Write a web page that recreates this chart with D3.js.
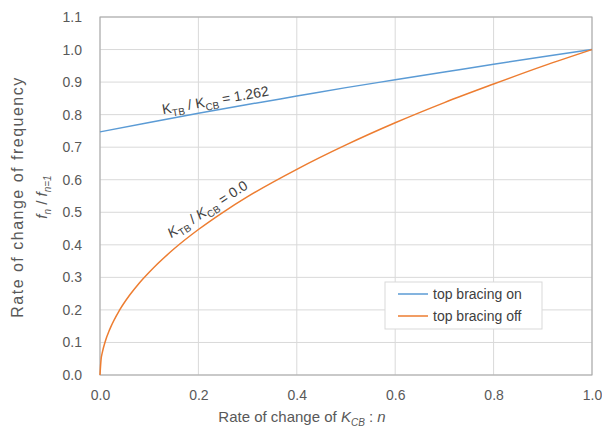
<!DOCTYPE html>
<html>
<head>
<meta charset="utf-8">
<script src="https://cdn.jsdelivr.net/npm/d3@7"></script>
<style>
  body { margin: 0; background: #fff; }
  svg { display: block; font-family: "Liberation Sans", Arial, sans-serif; }
</style>
</head>
<body>
<svg></svg>
<script>
const WIDTH = 602;
const HEIGHT = 430;

// values
const n_on = [0.0, 0.1, 0.2, 0.3, 0.4, 0.5, 0.6, 0.7, 0.8, 0.9, 1.0];
const f_on = [0.747, 0.776, 0.804, 0.831, 0.857, 0.883, 0.907, 0.931, 0.955, 0.978, 1.0];

const n_off = [0.0, 0.002, 0.005, 0.01, 0.02, 0.04, 0.06, 0.08, 0.1, 0.15, 0.2, 0.25, 0.3, 0.4, 0.5, 0.6, 0.7, 0.8, 0.9, 1.0];
const f_off = [0.0, 0.045, 0.071, 0.1, 0.141, 0.2, 0.245, 0.283, 0.316, 0.387, 0.447, 0.5, 0.548, 0.632, 0.707, 0.775, 0.837, 0.894, 0.949, 1.0];

const x_ticks = [0.0, 0.2, 0.4, 0.6, 0.8, 1.0];
const y_ticks = [0.0, 0.1, 0.2, 0.3, 0.4, 0.5, 0.6, 0.7, 0.8, 0.9, 1.0, 1.1];
const series_names = ["top bracing on", "top bracing off"];

const BLUE = "#5b9bd5";
const ORANGE = "#ed7d31";

const PLOT = {left: 100, right: 592, top: 17, bottom: 375};

var svg = d3.select("svg")
    .attr("width", WIDTH)
    .attr("height", HEIGHT);

svg.append("rect")
    .attr("width", WIDTH)
    .attr("height", HEIGHT)
    .attr("fill", "#fff");

var x = d3.scaleLinear().domain([0, 1]).range([PLOT.left, PLOT.right]);
var y = d3.scaleLinear().domain([0, 1.1]).range([PLOT.bottom, PLOT.top]);

// grid
svg.append("g")
    .selectAll("line.h")
    .data(y_ticks)
    .join("line")
    .attr("x1", PLOT.left).attr("x2", PLOT.right)
    .attr("y1", d => y(d)).attr("y2", d => y(d))
    .attr("stroke", "#d9d9d9");

svg.append("g")
    .selectAll("line.v")
    .data(x_ticks)
    .join("line")
    .attr("x1", d => x(d)).attr("x2", d => x(d))
    .attr("y1", PLOT.top).attr("y2", PLOT.bottom)
    .attr("stroke", "#d9d9d9");

svg.append("rect")
    .attr("x", PLOT.left)
    .attr("y", PLOT.top)
    .attr("width", PLOT.right - PLOT.left)
    .attr("height", PLOT.bottom - PLOT.top)
    .attr("fill", "none")
    .attr("stroke", "#a6a6a6");

// axes
var xAxis = svg.append("g")
    .attr("transform", `translate(0,${PLOT.bottom})`)
    .call(d3.axisBottom(x).tickValues(x_ticks).tickFormat(d3.format(".1f")).tickSize(0).tickPadding(15));
var yAxis = svg.append("g")
    .attr("transform", `translate(${PLOT.left},0)`)
    .call(d3.axisLeft(y).tickValues(y_ticks).tickFormat(d3.format(".1f")).tickSize(0).tickPadding(18));

[xAxis, yAxis].forEach(a => {
    a.select(".domain").remove();
    a.selectAll("text")
        .style("font-family", "Liberation Sans, Arial, sans-serif")
        .style("font-size", "14px")
        .attr("fill", "#595959");
});

// lines
var line = d3.line()
    .x(d => x(d[0]))
    .y(d => y(d[1]))
    .curve(d3.curveMonotoneX);

svg.append("path")
    .attr("d", line(d3.zip(n_on, f_on)))
    .attr("fill", "none")
    .attr("stroke", BLUE)
    .attr("stroke-width", 1.5);

svg.append("path")
    .attr("d", line(d3.zip(n_off, f_off)))
    .attr("fill", "none")
    .attr("stroke", ORANGE)
    .attr("stroke-width", 1.5);

// line labels
function ratioLabel(px, py, angle, value, italic) {
    let t = svg.append("text")
        .attr("transform", `translate(${px},${py}) rotate(${angle})`)
        .style("font-size", "14px")
        .attr("fill", "#404040");
    let k = italic ? "italic" : "normal";
    t.append("tspan").style("font-style", k).text("K");
    t.append("tspan").attr("dy", 4).style("font-size", "10px").text("TB");
    t.append("tspan").attr("dy", -4).text(" / ");
    t.append("tspan").style("font-style", k).text("K");
    t.append("tspan").attr("dy", 4).style("font-size", "10px").text("CB");
    t.append("tspan").attr("dy", -4).text(" = " + value);
}

ratioLabel(x(0.128), y(0.795) - 2, -10, "1.262", false);
ratioLabel(x(0.145), y(0.42), -33, "0.0", true);

// axis titles
var xt = svg.append("text")
    .attr("x", 302)
    .attr("y", 422)
    .attr("text-anchor", "middle")
    .style("font-size", "15px")
    .attr("fill", "#595959");
xt.append("tspan").text("Rate of change of ");
xt.append("tspan").style("font-style", "italic").text("K");
xt.append("tspan").attr("dy", 4).style("font-size", "10px").style("font-style", "italic").text("CB");
xt.append("tspan").attr("dy", -4).text(" : ");
xt.append("tspan").style("font-style", "italic").text("n");

var yt = svg.append("g")
    .attr("transform", "translate(0,197) rotate(-90)");
yt.append("text")
    .attr("x", 0)
    .attr("y", 23)
    .attr("text-anchor", "middle")
    .style("font-size", "16px")
    .style("letter-spacing", "1.5px")
    .attr("fill", "#595959")
    .text("Rate of change of frequency");
var yt2 = yt.append("text")
    .attr("x", 0)
    .attr("y", 47)
    .attr("text-anchor", "middle")
    .style("font-size", "15px")
    .attr("fill", "#595959");
yt2.append("tspan").style("font-style", "italic").text("f");
yt2.append("tspan").attr("dy", 4).style("font-size", "10px").style("font-style", "italic").text("n");
yt2.append("tspan").attr("dy", -4).text(" / ");
yt2.append("tspan").style("font-style", "italic").text("f");
yt2.append("tspan").attr("dy", 4).style("font-size", "10px").style("font-style", "italic").text("n=1");

// legend
var legend = svg.append("g")
    .attr("transform", "translate(385,282)");
legend.append("rect")
    .attr("width", 157)
    .attr("height", 47)
    .attr("fill", "#fff")
    .attr("stroke", "#d9d9d9");
var items = legend.selectAll("g")
    .data(series_names)
    .join("g")
    .attr("transform", (d, i) => `translate(0,${12 + i * 22})`);
items.append("line")
    .attr("x1", 13).attr("x2", 43)
    .attr("stroke", (d, i) => i == 0 ? BLUE : ORANGE)
    .attr("stroke-width", 1.5);
items.append("text")
    .attr("x", 48)
    .attr("dy", "0.35em")
    .style("font-size", "14px")
    .attr("fill", "#404040")
    .text(d => d);
</script>
</body>
</html>
